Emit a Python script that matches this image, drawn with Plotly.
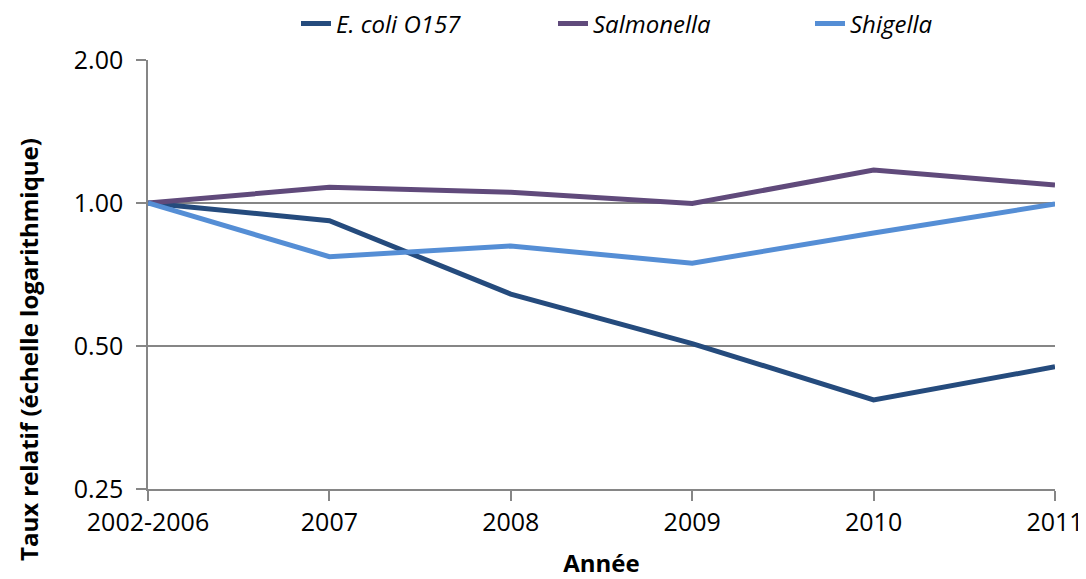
import plotly.graph_objects as go

categories = ["2002-2006", "2007", "2008", "2009", "2010", "2011"]
ecoli = [1.0, 0.918, 0.643, 0.506, 0.385, 0.452]
salmonella = [1.0, 1.079, 1.053, 0.998, 1.173, 1.091]
shigella = [1.0, 0.771, 0.812, 0.747, 0.865, 0.995]
series_names = ["E. coli O157", "Salmonella", "Shigella"]
colors = ["#254B7D", "#604A7B", "#558ED5"]
ytick_vals = [0.25, 0.5, 1.0, 2.0]
ytick_text = ["0.25", "0.50", "1.00", "2.00"]

FONT = "Open Sans"
FS = 24
W, H = 1078, 571  # page body has an 8px margin
ML, MR, MT, MB = 140, 31, 52, 90
PW, PH = W - ML - MR, H - MT - MB

fig = go.Figure()
for name, vals, col in zip(series_names, [ecoli, salmonella, shigella], colors):
    fig.add_trace(go.Scatter(
        x=categories, y=vals, mode="lines", name=name,
        line=dict(color=col, width=5),
    ))

fig.update_layout(
    width=W, height=H,
    margin=dict(l=ML, r=MR, t=MT, b=MB, autoexpand=False),
    paper_bgcolor="white", plot_bgcolor="white",
    font=dict(family=FONT, size=FS, color="black"),
    legend=dict(
        orientation="h", xref="container", yref="container",
        x=288 / W, xanchor="left", y=1 - 16 / H, yanchor="middle",
        font=dict(family=FONT, size=FS, style="italic"),
        entrywidth=212, entrywidthmode="pixels",
        bgcolor="rgba(0,0,0,0)",
    ),
    showlegend=True,
)

fig.add_annotation(
    text="<b>Taux relatif (échelle logarithmique)</b>",
    xref="paper", yref="paper",
    x=(20 - ML) / PW, y=(MT + PH - 342) / PH,
    xanchor="center", yanchor="middle", textangle=-90, showarrow=False,
    font=dict(family=FONT, size=FS, color="black"),
)

fig.update_xaxes(
    type="category", range=[0, 5], automargin=False,
    showline=True, linecolor="#868686", linewidth=1.5,
    ticks="outside", ticklen=10, tickcolor="#868686", tickwidth=1.5,
    showgrid=False, zeroline=False,
    tickfont=dict(family=FONT, size=25),
    title=dict(text="<b>Année</b>", font=dict(family=FONT, size=FS), standoff=18),
)
fig.update_yaxes(
    type="log", range=[-0.60206, 0.30103], automargin=False,
    tickvals=ytick_vals, ticktext=ytick_text,
    showline=True, linecolor="#868686", linewidth=1.5,
    ticks="outside", ticklen=10, tickcolor="#868686", tickwidth=1.5,
    ticklabelstandoff=8,
    showgrid=True, gridcolor="#868686", gridwidth=1.5,
    zeroline=False,
    tickfont=dict(family=FONT, size=25),
)

fig.write_html("out.html")
